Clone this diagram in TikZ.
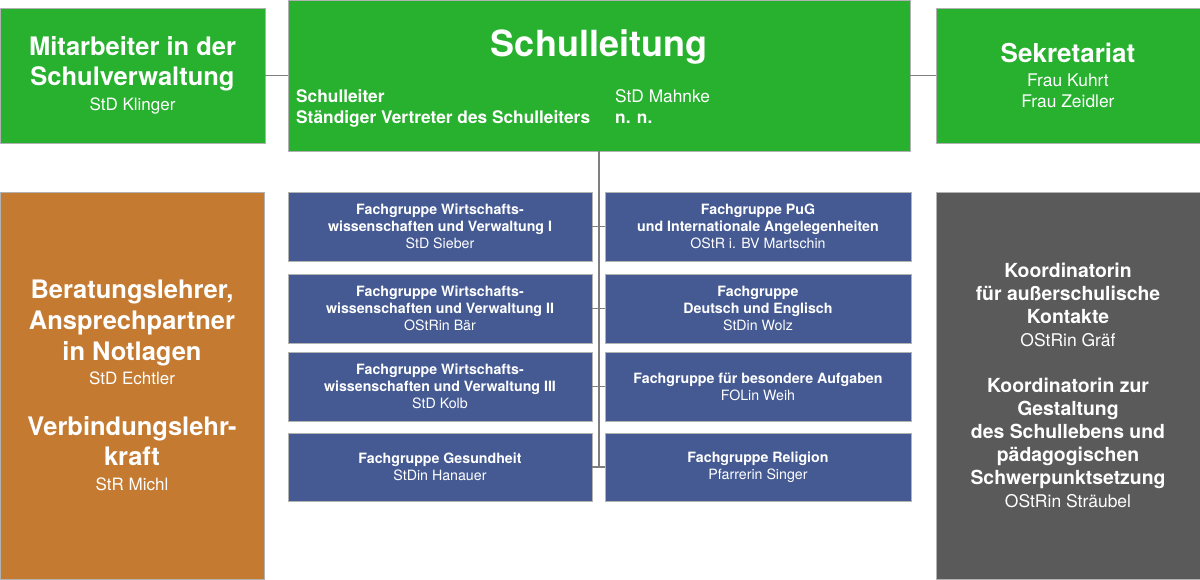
\documentclass[tikz,border=0pt]{standalone}
\usepackage{fontspec}
\setmainfont{TeX Gyre Heros}
\definecolor{leitgreen}{HTML}{27B12E}
\definecolor{fgblue}{HTML}{455A93}
\definecolor{beratorange}{HTML}{C47A31}
\definecolor{koordgray}{HTML}{5A5A5A}
\definecolor{linkgray}{HTML}{7F7F7F}
\newcommand\pname[2]{{\mdseries\fontsize{#1}{#1}\selectfont #2}}
\begin{document}
\begin{tikzpicture}[x=1pt,y=-1pt,
    box/.style={draw=black!30,line width=0.5pt,anchor=north west,inner sep=0pt,outer sep=0pt,align=center,text=white},
    greenbox/.style={box,fill=leitgreen},
    fgbox/.style={box,fill=fgblue,minimum height=69pt,font=\bfseries\fontsize{14.2}{17}\selectfont},
    link/.style={draw=linkgray,line width=1.6pt}]
  \useasboundingbox (0,0) rectangle (1200,580);
  \node[greenbox,minimum width=265pt,minimum height=135pt,font=\bfseries\fontsize{25.5}{25}\selectfont] (mitarb) at (0,8)
    {Mitarbeiter in der\\[5pt]Schulverwaltung\\\pname{17}{StD Klinger}};
  \node[greenbox,minimum width=622pt,minimum height=151pt] (leitung) at (288,0) {};
    \node[text=white,font=\bfseries\fontsize{36}{36}\selectfont,anchor=base] (leittitel) at (599,57) {Schulleitung};
    \node[text=white,font=\bfseries\fontsize{17.3}{21}\selectfont,anchor=base west,align=left,inner sep=0pt] (leitrolle) at (296,124)
      {Schulleiter\\Ständiger Vertreter des Schulleiters};
    \node[text=white,font=\bfseries\fontsize{17.3}{21}\selectfont,anchor=base west,align=left,inner sep=0pt] (leitname) at (615,124)
      {\pname{17.3}{StD Mahnke}\\n. n.};
  \node[greenbox,minimum width=264pt,minimum height=135pt,font=\bfseries\fontsize{26}{21}\selectfont] (sekr) at (936,8)
    {Sekretariat\\[3pt]\pname{17.4}{Frau Kuhrt}\\\pname{17.4}{Frau Zeidler}};
  \begin{scope}[every node/.style={fgbox}]
    \node[minimum width=304pt] (fgwv1) at (288,192) {Fachgruppe Wirtschafts-\\wissenschaften und Verwaltung I\\\pname{14.2}{StD Sieber}};
    \node[minimum width=306pt] (fgpug) at (605,192) {Fachgruppe PuG\\und Internationale Angelegenheiten\\\pname{14.2}{OStR i. BV Martschin}};
    \node[minimum width=304pt] (fgwv2) at (288,274) {Fachgruppe Wirtschafts-\\wissenschaften und Verwaltung II\\\pname{14.2}{OStRin Bär}};
    \node[minimum width=306pt] (fgde) at (605,274) {Fachgruppe\\Deutsch und Englisch\\\pname{14.2}{StDin Wolz}};
    \node[minimum width=304pt] (fgwv3) at (288,352) {Fachgruppe Wirtschafts-\\wissenschaften und Verwaltung III\\\pname{14.2}{StD Kolb}};
    \node[minimum width=306pt] (fgbes) at (605,352) {Fachgruppe für besondere Aufgaben\\\pname{14.2}{FOLin Weih}};
    \node[minimum width=304pt,minimum height=68pt] (fgges) at (288,433) {Fachgruppe Gesundheit\\\pname{14.2}{StDin Hanauer}};
    \node[minimum width=306pt,minimum height=68pt] (fgrel) at (605,433) {Fachgruppe Religion\\\pname{14.2}{Pfarrerin Singer}};
  \end{scope}
  \node[box,fill=beratorange,minimum width=264pt,minimum height=387pt,font=\bfseries\fontsize{25.5}{31}\selectfont] (berat) at (0,192)
    {Beratungslehrer,\\Ansprechpartner\\in Notlagen\\[-7pt]\pname{17}{StD Echtler}\\[20pt]Verbindungslehr-\\[-1pt]kraft\\[-6pt]\pname{17}{StR Michl}};
  \node[box,fill=koordgray,minimum width=264pt,minimum height=387pt,font=\bfseries\fontsize{19.4}{23}\selectfont] (koord) at (936,192)
    {Koordinatorin\\für außerschulische\\Kontakte\\\pname{17.5}{OStRin Gräf}\\[23pt]Koordinatorin zur\\Gestaltung\\des Schullebens und\\pädagogischen\\Schwerpunktsetzung\\\pname{17.5}{OStRin Sträubel}};
  \draw[link] (mitarb.east) -- (leitung.west);
  \draw[link] (leitung.east) -- (sekr.west);
  \coordinate (trunkend) at (leitung.south |- fgges.east);
  \draw[link] (leitung.south) -- (trunkend);
  \foreach \l/\r in {fgwv1/fgpug,fgwv2/fgde,fgwv3/fgbes,fgges/fgrel}
    \draw[link] (\l.east) -- (\r.west);
\end{tikzpicture}
\end{document}
